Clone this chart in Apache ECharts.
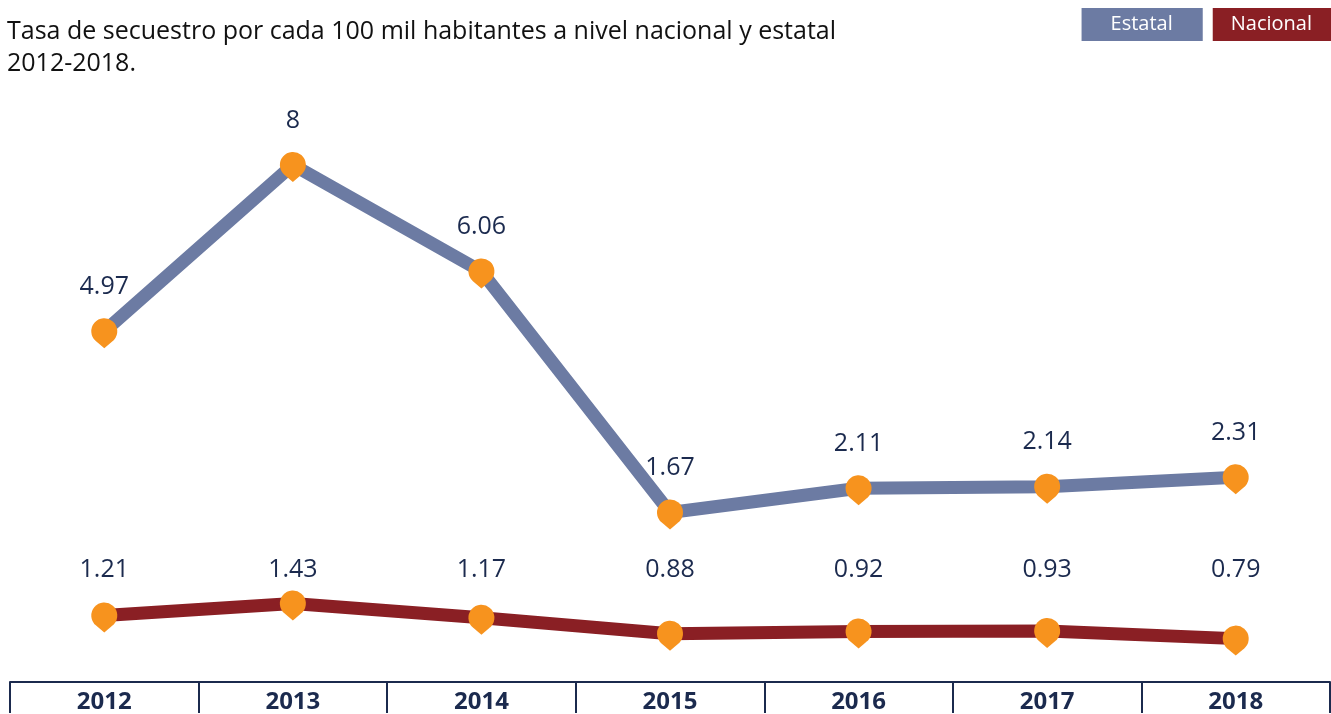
<!DOCTYPE html>
<html>
<head>
<meta charset="utf-8">
<script src="https://cdn.jsdelivr.net/npm/echarts@6/dist/echarts.min.js"></script>
<style>
html, body { margin: 0; padding: 0; background: #fff; }
#chart { width: 1331px; height: 714px; }
</style>
</head>
<body>
<div id="chart"></div>
<script>
// datos
var years = ["2012", "2013", "2014", "2015", "2016", "2017", "2018"];
var estatal = [4.97, 8, 6.06, 1.67, 2.11, 2.14, 2.31];
var nacional = [1.21, 1.43, 1.17, 0.88, 0.92, 0.93, 0.79];

var navy = "#1b2a4e";
var orange = "#f7931e";
var colors = ["#6c7ba3", "#8a1f24"];
var pin = "path://M13 30 L4.5 22.8 A13 13 0 1 1 21.5 22.8 Z";
// fila fija de etiquetas para la serie nacional (en unidades del eje)
var nacionalLabelRow = 2.05;

var chart = echarts.init(document.getElementById("chart"));
chart.setOption({
  animation: false,
  title: {
    text: "Tasa de secuestro por cada 100 mil habitantes a nivel nacional y estatal\n2012-2018.",
    left: 2,
    top: 11,
    textStyle: {
      fontFamily: "Open Sans",
      fontWeight: "normal",
      fontSize: 25,
      lineHeight: 32,
      color: "#111"
    }
  },
  legend: {
    orient: "horizontal",
    right: 0,
    top: 8,
    padding: 0,
    icon: "rect",
    itemWidth: 1,
    itemHeight: 1,
    itemGap: 4,
    selectedMode: false,
    itemStyle: { opacity: 0 },
    data: [
      { name: "Estatal", textStyle: { backgroundColor: colors[0], padding: [5, 30, 5, 29] } },
      { name: "Nacional", textStyle: { backgroundColor: colors[1], padding: [5, 19, 5, 18] } }
    ],
    textStyle: {
      fontFamily: "Open Sans",
      fontSize: 20,
      lineHeight: 23,
      color: "#fff"
    }
  },
  grid: { left: 10, right: 1, top: 100, bottom: 31 },
  xAxis: {
    type: "category",
    data: years,
    boundaryGap: true,
    axisLine: { onZero: false, lineStyle: { color: navy, width: 2 } },
    axisTick: { show: true, length: 31, lineStyle: { color: navy, width: 2 } },
    axisLabel: {
      margin: 8,
      fontFamily: "Open Sans",
      fontWeight: "bold",
      fontSize: 24,
      color: navy
    }
  },
  yAxis: [
    { type: "value", min: -1.418, max: 9.182, show: false, splitLine: { show: false } },
    { type: "value", min: 0, max: 10.6, show: false, splitLine: { show: false } }
  ],
  series: [
    {
      name: "Estatal",
      type: "line",
      yAxisIndex: 0,
      data: estatal,
      color: colors[0],
      lineStyle: { width: 13, color: colors[0] },
      symbol: pin,
      symbolSize: [26, 30],
      symbolOffset: [0, 2],
      itemStyle: { color: orange },
      label: {
        show: true,
        position: "top",
        distance: 19,
        fontFamily: "Open Sans",
        fontSize: 25,
        color: navy
      },
      z: 2
    },
    {
      name: "Nacional",
      type: "line",
      yAxisIndex: 1,
      data: nacional,
      color: colors[1],
      lineStyle: { width: 13, color: colors[1] },
      symbol: pin,
      symbolSize: [26, 30],
      symbolOffset: [0, 2],
      itemStyle: { color: orange },
      z: 2
    },
    {
      name: "nacional-etiquetas",
      type: "scatter",
      yAxisIndex: 1,
      data: nacional.map(function (v) { return nacionalLabelRow; }),
      symbolSize: 1,
      itemStyle: { color: "transparent", opacity: 1 },
      silent: true,
      label: {
        show: true,
        position: "inside",
        formatter: function (p) { return nacional[p.dataIndex]; },
        fontFamily: "Open Sans",
        fontSize: 25,
        color: navy
      }
    }
  ]
});
</script>
</body>
</html>
